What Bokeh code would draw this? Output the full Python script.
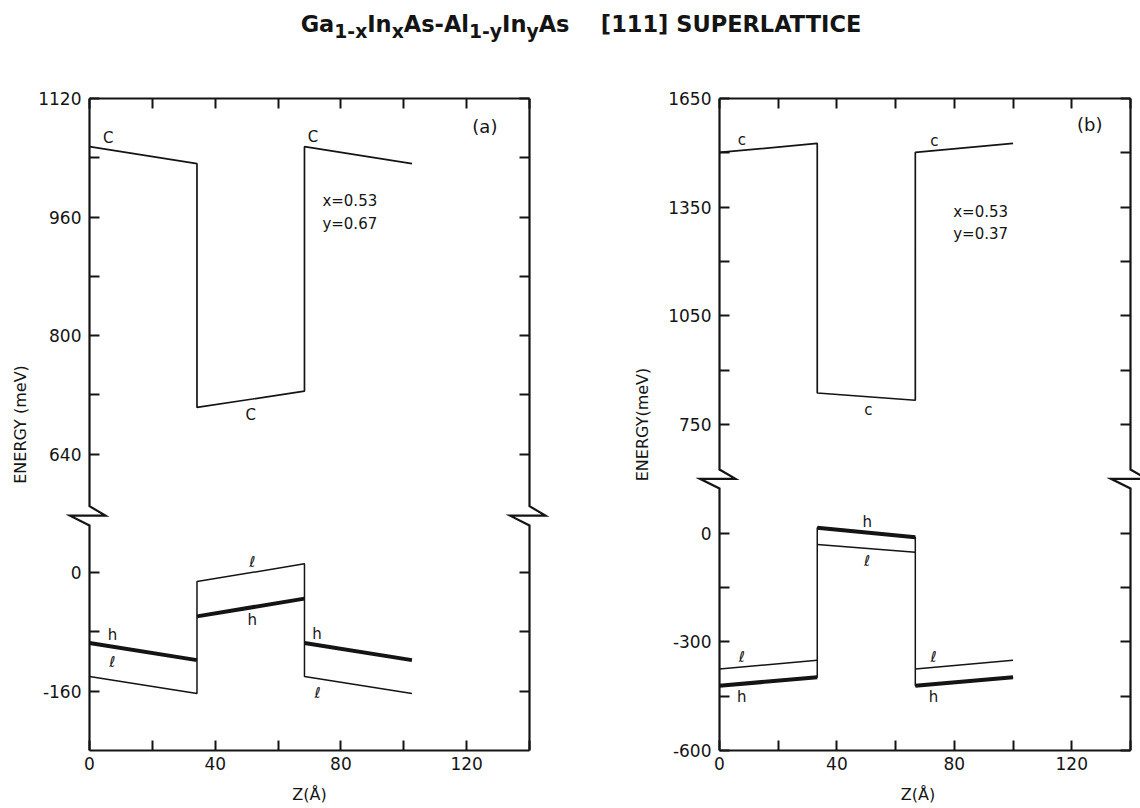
from bokeh.plotting import figure
from bokeh.models import Range1d, FixedTicker, LinearAxis, Label, Div, ColumnDataSource
from bokeh.layouts import column, row
from bokeh.embed import file_html
from bokeh.resources import INLINE
from bokeh.core.properties import value

FONT = "DejaVu Sans"
INK = "#141414"

# ---------------- panel (a): x = 0.53, y = 0.67 ----------------
z_a = [0.0, 34.2, 68.4, 102.6]        # layer edges (Å): barrier | well | barrier
c_barrier_a = [1055, 1032]            # conduction band, start/end of layer (meV)
c_well_a = [703, 725]
h_barrier_a = [-95, -118]             # heavy hole
h_well_a = [-59, -35]
l_barrier_a = [-140, -163]            # light hole
l_well_a = [-12, 12]
e_range_a = [-240, 1120]
e_shift_a = 480                       # valence part lifted across the axis break
e_break_a = 557                       # break mark, on the displayed scale
e_ticks_upper_a = [640, 720, 800, 880, 960, 1040, 1120]
e_ticks_lower_a = [-160, -80, 0]
e_labels_a = [1120, 960, 800, 640, 0, -160]

# ---------------- panel (b): x = 0.53, y = 0.37 ----------------
z_b = [0.0, 33.3, 66.7, 100.0]
c_barrier_b = [1501, 1526]
c_well_b = [837, 817]
h_barrier_b = [-421, -398]
h_well_b = [15, -11]
l_barrier_b = [-375, -351]
l_well_b = [-31, -53]
e_range_b = [-600, 1650]
e_shift_b = 450
e_break_b = 600
e_ticks_upper_b = [750, 900, 1050, 1200, 1350, 1500, 1650]
e_ticks_lower_b = [-600, -450, -300, -150, 0]
e_labels_b = [1650, 1350, 1050, 750, 0, -300, -600]

z_range = [0, 140]
z_ticks = [0, 20, 40, 60, 80, 100, 120, 140]
z_labels = [0, 40, 80, 120]

# band letters: (text, layer, distance into layer in Å, band, vertical offset px)
letters_a = [
    ("C", 0, 6.0, "c", -12), ("C", 2, 2.7, "c", -11), ("C", 1, 17.1, "c", 16),
    ("ℓ", 1, 17.6, "l", -10), ("h", 1, 17.6, "h", 13),
    ("h", 0, 7.3, "h", -12), ("ℓ", 0, 7.3, "l", -18),
    ("h", 2, 4.0, "h", -11), ("ℓ", 2, 4.2, "l", 14),
]
letters_b = [
    ("c", 0, 7.6, "c", -10), ("c", 2, 6.5, "c", -10), ("c", 1, 17.4, "c", 13),
    ("h", 1, 17.0, "h", -11), ("ℓ", 1, 17.0, "l", 13),
    ("ℓ", 0, 7.6, "l", -10), ("h", 0, 7.6, "h", 13),
    ("ℓ", 2, 6.2, "l", -10), ("h", 2, 6.2, "h", 13),
]


def stepped(z, barrier, well, shift=0):
    xs = [z[0], z[1], z[1], z[2], z[2], z[3]]
    ys = [barrier[0], barrier[1], well[0], well[1], barrier[0], barrier[1]]
    return xs, [v + shift for v in ys]


def pieces(z, barrier, well, shift=0):
    xs = [[z[0], z[1]], [z[1], z[2]], [z[2], z[3]]]
    ys = [[v + shift for v in barrier], [v + shift for v in well], [v + shift for v in barrier]]
    return xs, ys


def text_style(ax, size):
    ax.major_label_text_font = FONT
    ax.major_label_text_font_size = size
    ax.major_label_text_color = INK
    ax.axis_label_text_font = FONT
    ax.axis_label_text_font_size = "16px"
    ax.axis_label_text_font_style = "normal"
    ax.axis_label_text_color = INK


def tick_style(ax, t_in, t_out, line=True):
    ax.major_tick_in = t_in
    ax.major_tick_out = t_out
    ax.minor_tick_in = t_in
    ax.minor_tick_out = t_out
    ax.major_tick_line_color = INK
    ax.minor_tick_line_color = INK
    ax.major_tick_line_width = 2
    ax.minor_tick_line_width = 2
    ax.axis_line_color = INK if line else None
    ax.axis_line_width = 2.2


def make_panel(cfg):
    W, H = cfg["size"]
    box_l, box_r = cfg["box_x"]          # where z = 0 and z = 140 fall in the canvas
    pad_l, pad_r = cfg["pad"]            # room left for the break marks
    bt, bb = cfg["border_tb"]
    shift = cfg["shift"]
    lo = cfg["e_range"][0] + shift
    hi = cfg["e_range"][1]
    x0, x1 = z_range
    sx = (box_r - box_l) / (x1 - x0)
    sy = (H - bt - bb) / (hi - lo)

    p = figure(width=W, height=H,
               x_range=Range1d(x0 - pad_l / sx, x1 + pad_r / sx), y_range=Range1d(lo, hi),
               output_backend="svg", toolbar_location=None,
               min_border_left=box_l - pad_l, min_border_right=W - box_r - pad_r,
               min_border_top=bt, min_border_bottom=bb,
               outline_line_color=None, background_fill_color="white",
               border_fill_color="white", margin=(0, 0, 0, 0))
    p.grid.visible = False

    major = [t for t in cfg["upper"] if t in cfg["labels"]] + \
            [t + shift for t in cfg["lower"] if t in cfg["labels"]]
    minor = [t for t in cfg["upper"] if t not in cfg["labels"]] + \
            [t + shift for t in cfg["lower"] if t not in cfg["labels"]]
    overrides = {t: str(t) for t in cfg["upper"] if t in cfg["labels"]}
    overrides.update({t + shift: str(t) for t in cfg["lower"] if t in cfg["labels"]})

    # left energy axis: ticks start on the z = 0 edge of the box
    yl = p.left[0]
    yl.ticker = FixedTicker(ticks=major, minor_ticks=minor)
    yl.major_label_overrides = overrides
    tick_style(yl, pad_l + 10, -pad_l, line=False)
    text_style(yl, "17px")
    yl.major_label_standoff = 8
    yl.axis_label = cfg["ylabel"]
    yl.axis_label_standoff = cfg["ylabel_standoff"]

    # right side: ticks only
    yr = LinearAxis(ticker=FixedTicker(ticks=[], minor_ticks=major + minor))
    tick_style(yr, pad_r + 10, -pad_r, line=False)
    yr.major_label_standoff = pad_r
    p.add_layout(yr, "right")

    xb = p.below[0]
    xb.ticker = FixedTicker(ticks=[t for t in z_ticks if t in z_labels],
                            minor_ticks=[t for t in z_ticks if t not in z_labels])
    tick_style(xb, 10, 0)
    text_style(xb, "17px")
    xb.bounds = (x0, x1)
    xb.major_label_standoff = 6
    xb.axis_label = "Z(Å)"
    xb.axis_label_standoff = 12

    xt = LinearAxis(ticker=FixedTicker(ticks=[], minor_ticks=z_ticks))
    tick_style(xt, 10, 0)
    xt.bounds = (x0, x1)
    xt.major_label_standoff = 0
    p.add_layout(xt, "above")

    # side edges of the box, interrupted by the axis-break mark
    brk = cfg["e_break"]
    du, dd, dr, dl = 9.5 / sy, 9.8 / sy, 16 / sx, 19.5 / sx
    for xe in (x0, x1):
        p.line([xe, xe, xe + dr, xe - dl, xe, xe],
               [hi, brk + du, brk, brk, brk - dd, lo],
               line_color=INK, line_width=2.2, line_join="miter")

    z = cfg["z"]
    bands = cfg["bands"]

    # conduction band
    xs, ys = stepped(z, *bands["c"])
    p.line(xs, ys, line_color=INK, line_width=1.7)

    # valence bands
    step = cfg["step_band"]
    xs, ys = stepped(z, *bands[step], shift=shift)
    p.line(xs, ys, line_color=INK, line_width=1.5)
    if step == "h":
        mx, my = pieces(z, *bands["l"], shift=shift)
        p.multi_line(mx, my, line_color=INK, line_width=1.5)
    mx, my = pieces(z, *bands["h"], shift=shift)
    p.multi_line(mx, my, line_color=INK, line_width=4)

    # band letters placed along their lines
    lx, ly, lt, lo_ = [], [], [], []
    for text, layer, dz, band, off in cfg["letters"]:
        barrier, well = bands[band]
        v0, v1 = well if layer == 1 else barrier
        za, zb = z[layer], z[layer + 1]
        val = v0 + (v1 - v0) * dz / (zb - za)
        if band != "c":
            val += shift
        lx.append(za + dz)
        ly.append(val)
        lt.append(text)
        lo_.append(off)
    src = ColumnDataSource(dict(x=lx, y=ly, text=lt, dy=lo_))
    p.text(x="x", y="y", text="text", y_offset="dy", source=src,
           text_font=value(FONT), text_font_size="15px", text_color=INK,
           text_align="center", text_baseline="middle")

    tx, ty = cfg["tag_pos"]
    p.add_layout(Label(x=tx, y=ty, text=cfg["tag"], text_font=FONT, text_font_size="18px",
                       text_color=INK, text_align="center", text_baseline="middle"))
    cx, cy1, cy2 = cfg["comp_pos"]
    for yy, txt in ((cy1, "x=" + cfg["comp"][0]), (cy2, "y=" + cfg["comp"][1])):
        p.add_layout(Label(x=cx, y=yy, text=txt, text_font=FONT, text_font_size="15px",
                           text_color=INK, text_align="left", text_baseline="middle"))
    return p


panel_a = make_panel(dict(
    size=(600, 758), box_x=(89, 529), pad=(24, 24), border_tb=(48, 56),
    z=z_a, bands={"c": (c_barrier_a, c_well_a), "h": (h_barrier_a, h_well_a),
                  "l": (l_barrier_a, l_well_a)},
    step_band="l", shift=e_shift_a, e_range=e_range_a, e_break=e_break_a,
    upper=e_ticks_upper_a, lower=e_ticks_lower_a, labels=e_labels_a,
    ylabel="ENERGY (meV)", ylabel_standoff=5, letters=letters_a,
    tag="(a)", tag_pos=(125.8, 1082), comp=("0.53", "0.67"), comp_pos=(74.1, 981, 951),
))

panel_b = make_panel(dict(
    size=(540, 758), box_x=(119, 530), pad=(24, 10), border_tb=(33, 58),
    z=z_b, bands={"c": (c_barrier_b, c_well_b), "h": (h_barrier_b, h_well_b),
                  "l": (l_barrier_b, l_well_b)},
    step_band="h", shift=e_shift_b, e_range=e_range_b, e_break=e_break_b,
    upper=e_ticks_upper_b, lower=e_ticks_lower_b, labels=e_labels_b,
    ylabel="ENERGY(meV)", ylabel_standoff=13, letters=letters_b,
    tag="(b)", tag_pos=(126.1, 1578), comp=("0.53", "0.37"), comp_pos=(79.6, 1337.6, 1276),
))

title = Div(
    text=('<div style="width:1140px;text-align:center;padding-top:8px;padding-left:22px;'
          'box-sizing:border-box;font-family:\'DejaVu Sans\';font-size:22.5px;font-weight:bold;'
          'color:#141414;white-space:nowrap;">'
          'Ga<sub>1-x</sub>In<sub>x</sub>As-Al<sub>1-y</sub>In<sub>y</sub>As'
          '&nbsp;&nbsp;&nbsp;&nbsp;[111] SUPERLATTICE</div>'),
    width=1140, height=50, margin=(0, 0, 0, 0))

layout = column(title, row(panel_a, panel_b, spacing=0), spacing=0)

open("out.html", "w").write(file_html(layout, INLINE))
